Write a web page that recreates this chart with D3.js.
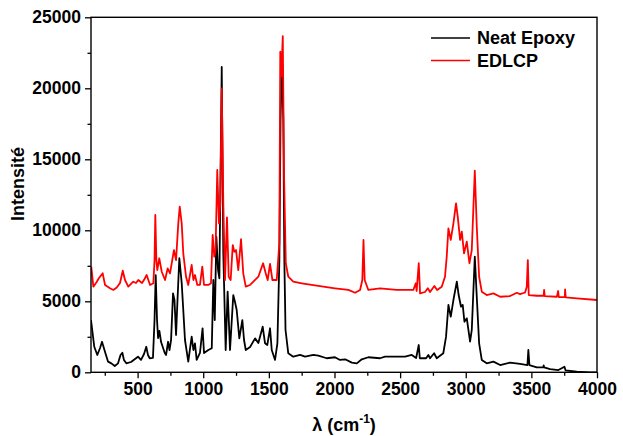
<!DOCTYPE html>
<html><head><meta charset="utf-8">
<script src="https://cdn.jsdelivr.net/npm/d3@7"></script>
<style>body{margin:0;background:#fff}svg{display:block}text{font-family:"Liberation Sans",Arial,sans-serif;font-weight:bold}</style>
</head><body><svg id="c" width="623" height="436"></svg>
<script>
const seriesNames = ["Neat Epoxy", "EDLCP"];
const seriesColors = ["#000000", "#ff0000"];
const xTicks = [500, 1000, 1500, 2000, 2500, 3000, 3500, 4000];
const yTicks = [0, 5000, 10000, 15000, 20000, 25000];

const epoxyX = [145,170,193,214,229,252,275,300,326,351,370,384,396,414,450,503,526,549,566,579,592,617,629,638,648,656,666,679,707,717,732,743,755,770,781,793,804,818,836,848,861,886,912,925,937,950,975,995,1006,1039,1065,1077,1088,1100,1113,1123,1141,1153,1171,1186,1204,1229,1242,1255,1275,1298,1311,1324,1357,1395,1420,1453,1471,1488,1509,1522,1547,1565,1580,1589,1600,1610,1618,1627,1648,1686,1738,1776,1839,1877,1941,2004,2042,2081,2132,2170,2208,2258,2347,2385,2474,2538,2589,2622,2642,2650,2698,2715,2728,2759,2779,2829,2850,2868,2886,2906,2932,2946,2964,2977,2990,3008,3033,3046,3069,3084,3102,3122,3160,3211,3262,3338,3414,3470,3477,3485,3541,3591,3594,3597,3643,3706,3752,3761,3846,3947,4000];
const epoxyY = [3680,1800,1220,1710,2150,1430,750,630,440,630,1220,1380,870,630,725,1100,870,1290,1800,1220,990,1010,3680,6850,3680,2415,2910,2130,1360,1220,2150,1570,2275,5560,5090,2630,5090,8030,6290,4390,2275,750,2510,1570,2040,870,1360,3100,1360,1570,1690,6500,3680,9550,7200,6620,21500,8400,1570,5680,1570,5440,4950,4390,2390,3680,2275,1570,1780,2390,2060,3210,2040,1920,3100,1570,870,2040,7900,17770,22300,17770,7900,2980,1340,1100,1220,1100,1220,1170,990,1060,870,915,680,630,915,1060,990,1100,1100,1100,1220,1010,1920,990,990,1220,990,1340,990,1340,2510,4740,3915,5090,6380,5440,4620,4740,3560,3800,2155,2980,8140,5320,2040,870,630,750,510,680,590,510,1570,510,350,340,480,340,230,160,390,130,40,0,0];

const edlcpX = [147,163,188,206,234,252,290,315,341,366,387,404,429,467,488,505,534,553,569,595,620,629,635,643,650,665,684,709,729,747,777,793,810,821,836,848,869,886,912,925,937,955,975,993,1006,1039,1059,1072,1084,1094,1107,1120,1130,1141,1153,1166,1181,1194,1209,1225,1237,1250,1267,1288,1305,1324,1357,1382,1420,1456,1476,1491,1509,1527,1560,1580,1587,1595,1606,1616,1629,1648,1686,1751,1877,2004,2106,2157,2195,2212,2221,2230,2258,2347,2474,2601,2619,2626,2642,2652,2690,2711,2728,2761,2782,2817,2842,2855,2868,2886,2906,2926,2939,2957,2970,2987,3008,3028,3046,3069,3084,3102,3122,3160,3211,3262,3338,3389,3414,3452,3465,3473,3480,3541,3594,3597,3602,3694,3704,3709,3755,3757,3762,3846,4000];
const edlcpY = [7440,6030,6360,6640,6970,6150,5915,5800,5970,6290,7155,6500,6030,6380,6290,6500,6290,6570,6850,6150,6270,7900,11080,7900,7200,8030,7080,6500,7320,6970,8610,7900,10490,11660,10490,8380,6730,6150,7560,6500,6850,6150,6150,7440,6150,6150,6270,9670,8140,8610,14250,10490,11900,20000,11900,6500,10915,6730,6500,8960,8490,8610,7200,9370,6970,6030,6150,6380,6730,7680,6970,6500,7630,6500,6500,9080,22580,20820,23680,13770,7680,6730,6380,6270,6080,5915,5800,5600,5800,6500,9320,6500,5800,5915,5800,5800,6270,5725,7680,5560,5655,5915,5655,6080,5800,6030,6730,8140,10140,9320,10490,11900,10960,9320,9900,8380,9200,7680,8610,14200,10250,6730,5680,5440,5560,5320,5370,5600,5510,5620,6030,7900,5440,5390,5390,5800,5370,5320,5725,5300,5300,5845,5270,5210,5090];

const svg = d3.select("#c");
const m = {l: 91, r: 597, t: 17.3, b: 372.3};
const x = d3.scaleLinear().domain([145, 4000]).range([m.l, m.r]);
const y = d3.scaleLinear().domain([0, 25000]).range([m.b, m.t]);
const FONT = "Liberation Sans, Arial, sans-serif";

// minor ticks
const xMinor = d3.range(250, 4001, 500);
const yMinor = d3.range(2500, 25000, 5000);
svg.append("g").attr("transform", `translate(0,${m.b})`)
  .call(d3.axisBottom(x).tickValues(xMinor).tickSize(3.5).tickFormat(""))
  .call(g => g.select(".domain").remove())
  .selectAll("line").attr("stroke-width", 1.3);
svg.append("g").attr("transform", `translate(${m.l},0)`)
  .call(d3.axisLeft(y).tickValues(yMinor).tickSize(3.5).tickFormat(""))
  .call(g => g.select(".domain").remove())
  .selectAll("line").attr("stroke-width", 1.3);

const xa = svg.append("g").attr("transform", `translate(0,${m.b})`)
  .call(d3.axisBottom(x).tickValues(xTicks).tickFormat(d3.format("d")).tickSize(6).tickPadding(4).tickSizeOuter(0));
xa.selectAll("text").attr("font-size", 17.5).attr("fill", "#000").attr("font-family", FONT).attr("font-weight", "bold");
xa.selectAll("line").attr("stroke-width", 1.3);
xa.select(".domain").remove();

const ya = svg.append("g").attr("transform", `translate(${m.l},0)`)
  .call(d3.axisLeft(y).tickValues(yTicks).tickFormat(d3.format("d")).tickSize(6).tickPadding(4).tickSizeOuter(0));
ya.selectAll("text").attr("font-size", 17.5).attr("fill", "#000").attr("font-family", FONT).attr("font-weight", "bold");
ya.selectAll("line").attr("stroke-width", 1.3);
ya.select(".domain").remove();

const line = d3.line().x(d => x(d[0])).y(d => y(d[1]));
const data = [d3.zip(epoxyX, epoxyY), d3.zip(edlcpX, edlcpY)];
svg.append("clipPath").attr("id", "clp").append("rect")
  .attr("x", m.l).attr("y", m.t).attr("width", m.r - m.l).attr("height", m.b - m.t);
svg.append("g").attr("clip-path", "url(#clp)").selectAll("path").data(data).join("path")
  .attr("d", line).attr("fill", "none")
  .attr("stroke", (d, i) => seriesColors[i]).attr("stroke-width", 1.8)
  .attr("stroke-linejoin", "round");

// frame
svg.append("rect").attr("x", m.l).attr("y", m.t).attr("width", m.r - m.l).attr("height", m.b - m.t)
  .attr("fill", "none").attr("stroke", "#000").attr("stroke-width", 1.4);

// legend
const lg = svg.append("g");
seriesNames.forEach((n, i) => {
  const yy = 38 + i * 22.5;
  lg.append("line").attr("x1", 431).attr("x2", 470).attr("y1", yy).attr("y2", yy)
    .attr("stroke", seriesColors[i]).attr("stroke-width", 1.6);
  lg.append("text").attr("x", 477).attr("y", yy).attr("dy", "0.35em")
    .attr("font-size", 18).text(n);
});

// axis titles
svg.append("text").attr("transform", "translate(24,184) rotate(-90)")
  .attr("text-anchor", "middle").attr("font-size", 18).text("Intensité");
const xt = svg.append("text").attr("x", 344).attr("y", 431).attr("text-anchor", "middle").attr("font-size", 18);
xt.append("tspan").text("λ (cm");
xt.append("tspan").attr("dy", -8).attr("font-size", 12).text("-1");
xt.append("tspan").attr("dy", 8).text(")");
</script></body></html>
